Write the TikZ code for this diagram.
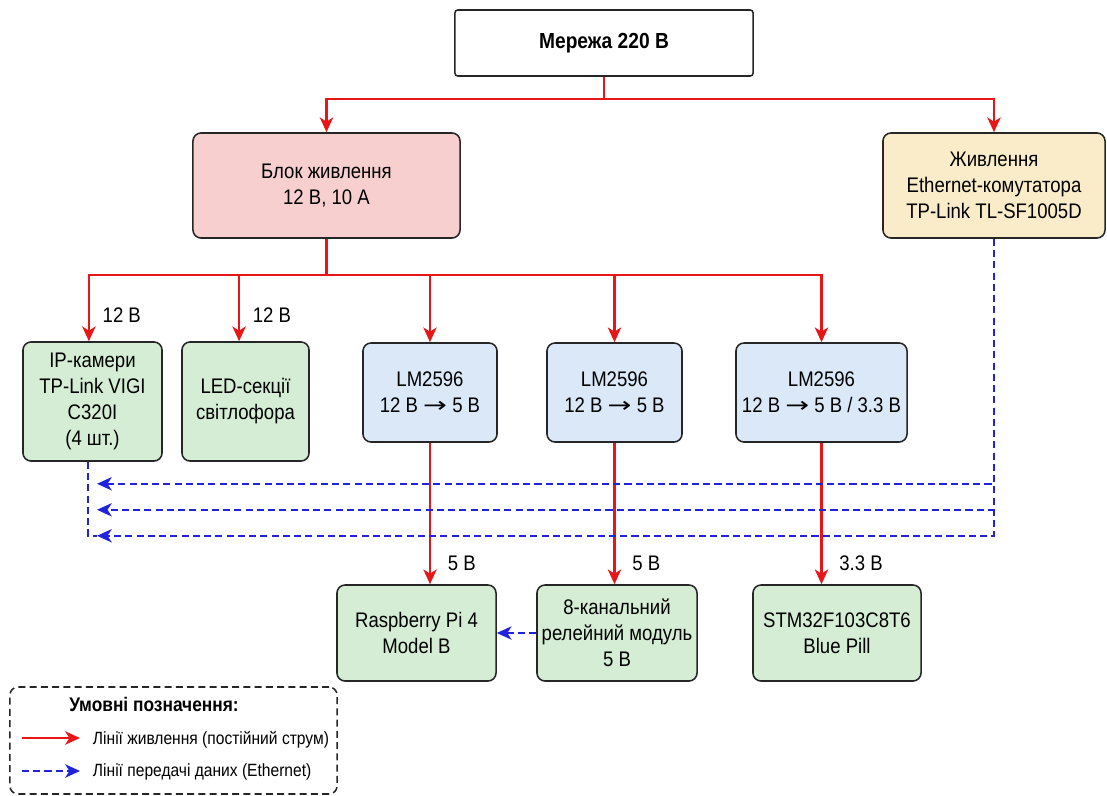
\documentclass[tikz,border=0pt]{standalone}
\usepackage{fontspec}
\setmainfont{Liberation Sans}[FakeStretch=0.88]
\newfontfamily\arrowfont{DejaVu Sans}
\usetikzlibrary{arrows.meta,positioning,calc}
\definecolor{pwr}{RGB}{232,22,22}
\definecolor{eth}{RGB}{34,34,221}
\definecolor{psufill}{RGB}{248,207,207}
\definecolor{swfill}{RGB}{250,236,200}
\definecolor{devfill}{RGB}{213,237,212}
\definecolor{convfill}{RGB}{218,232,248}
\newcommand{\convto}{\scalebox{1.35}[1]{\arrowfont →}}

\begin{document}
\begin{tikzpicture}[x=0.025cm, y=-0.025cm, >={Stealth[length=10.5pt,width=9.5pt,inset=3pt]}]
\tikzstyle{block} = [rectangle, rounded corners=0.2cm, draw=black!85, line width=1.1pt, align=center, inner sep=0pt, font=\fontsize{15}{18.5}\selectfont]
\tikzstyle{power} = [draw=pwr, line width=1.6pt]
\tikzstyle{data} = [draw=eth, line width=1.2pt, dash pattern=on 5pt off 3pt]
\tikzstyle{volt} = [right, xshift=0.3cm, font=\fontsize{15}{18}\selectfont]
\tikzstyle{legtext} = [anchor=west, font=\fontsize{12.6}{15}\selectfont]
\useasboundingbox (0,0) rectangle (1107,796);

\node (grid) [block, rounded corners=2pt, fill=white, minimum width=7.45cm, minimum height=1.65cm, font=\fontsize{15.5}{18}\selectfont\bfseries] at (604,43) {Мережа 220 В};
\node (psu) [block, fill=psufill, minimum width=6.675cm, minimum height=2.625cm] at (326.5,185.5) {Блок живлення\\12 В, 10 А};
\node (sw) [block, fill=swfill, minimum width=5.55cm, minimum height=2.625cm] at (994,185.5) {Живлення\\Ethernet-комутатора\\TP-Link TL-SF1005D};

\node (cam) [block, fill=devfill, minimum width=3.475cm, minimum height=2.975cm] at (92.5,401.5) {IP-камери\\TP-Link VIGI\\C320I\\(4 шт.)};
\node (led) [block, fill=devfill, minimum width=3.175cm, minimum height=2.975cm] at (245.5,401.5) {LED-секції\\світлофора};
\node (lma) [block, fill=convfill, minimum width=3.35cm, minimum height=2.475cm] at (430,392.5) {LM2596\\12 В \convto{} 5 В};
\node (lmb) [block, fill=convfill, minimum width=3.375cm, minimum height=2.475cm] at (614.5,392.5) {LM2596\\12 В \convto{} 5 В};
\node (lmc) [block, fill=convfill, minimum width=4.275cm, minimum height=2.475cm] at (821.5,392.5) {LM2596\\12 В \convto{} 5 В / 3.3 В};

\node (rpi) [block, fill=devfill, minimum width=3.975cm, minimum height=2.4cm] at (416.5,633) {Raspberry Pi 4\\Model B};
\node (relay) [block, fill=devfill, minimum width=4cm, minimum height=2.4cm] at (617,633) {8-канальний\\релейний модуль\\5 В};
\node (stm) [block, fill=devfill, minimum width=4.2cm, minimum height=2.4cm] at (837,633) {STM32F103C8T6\\Blue Pill};

\draw[power] (grid.south) -- ++(0,22) coordinate (split);
\draw[power,->] (split) -| (psu.north);
\draw[power,->] (split) -| (sw.north);

\draw[power] (psu.south) -- ++(0,36.5) coordinate (bus);
\draw[power,->] (bus) -| node[volt, pos=0.8, xshift=-0.1cm] {12 В} ([xshift=-0.09cm]cam.north);
\draw[power,->] (bus) -| node[volt, pos=0.8, xshift=-0.1cm] {12 В} ([xshift=-0.16cm]led.north);
\draw[power,->] (bus) -| (lma.north);
\draw[power,->] (bus) -| (lmb.north);
\draw[power,->] (bus) -| (lmc.north);

\draw[power,->] (lma.south) -- node[volt, pos=0.85] {5 В} (lma.south |- rpi.north);
\draw[power,->] (lmb.south) -- node[volt, pos=0.85] {5 В} (lmb.south |- relay.north);
\draw[power,->] (lmc.south) -- node[volt, pos=0.85] {3.3 В} (lmc.south |- stm.north);

\draw[data,->] (sw.south) |- ([shift={(4.5,22)}]cam.south);
\draw[data,->] (sw.south) |- ([shift={(4.5,48)}]cam.south);
\draw[data,->] (sw.south) |- ([shift={(4.5,74)}]cam.south);
\draw[data] ([shift={(-4.5,0)}]cam.south) |- ([shift={(4.5,74)}]cam.south);
\draw[data,->] (relay.west) -- (rpi.east);

\node (legend) [rectangle, rounded corners=0.2cm, draw=black!85, line width=1.1pt, dash pattern=on 5pt off 3pt, minimum width=8.175cm, minimum height=2.675cm] at (173.5,740.5) {};
\node (legtitle) [font=\fontsize{14}{16}\selectfont\bfseries] at (154,704) {Умовні позначення:};
\coordinate (pa) at (22,738);
\coordinate (pb) at (80,738);
\coordinate (da) at (22,771);
\coordinate (db) at (80,771);
\draw[power,->] (pa) -- (pb);
\draw[data,->] (da) -- (db);
\node (legpower) [legtext] at (88,740) {Лінії живлення (постійний струм)};
\node (legdata) [legtext] at (88,772) {Лінії передачі даних (Ethernet)};
\end{tikzpicture}
\end{document}
